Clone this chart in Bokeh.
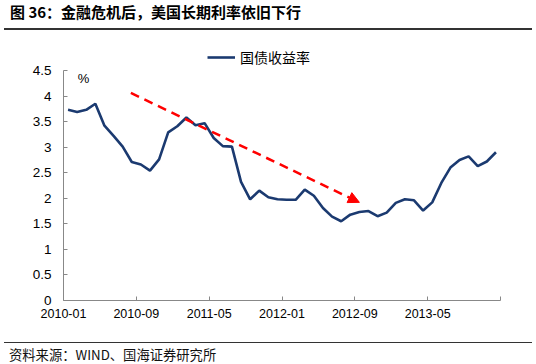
from bokeh.plotting import figure
from bokeh.models import (ColumnDataSource, FixedTicker, Label, Arrow, NormalHead,
                          Legend, LegendItem, Div)
from bokeh.layouts import column
from bokeh.embed import file_html
from bokeh.resources import INLINE
import pandas as pd

# ---- data ----
months = list(pd.date_range("2010-01-01", periods=48, freq="MS").strftime("%Y-%m"))
yields = [3.73, 3.69, 3.73, 3.85, 3.42, 3.22, 3.01, 2.71, 2.66, 2.54, 2.76, 3.29,
          3.41, 3.58, 3.43, 3.47, 3.18, 3.02, 3.01, 2.32, 1.98, 2.15, 2.02, 1.98,
          1.97, 1.97, 2.17, 2.05, 1.81, 1.64, 1.55, 1.68, 1.73, 1.75, 1.65, 1.72,
          1.91, 1.98, 1.96, 1.76, 1.92, 2.30, 2.60, 2.75, 2.82, 2.63, 2.72, 2.90]
series_name = "国债收益率"
title_text = "图 36：金融危机后，美国长期利率依旧下行"
source_text = "资料来源：WIND、国海证券研究所"
unit_text = "%"
tick_step = 8
y_ticks = [0, 0.5, 1, 1.5, 2, 2.5, 3, 3.5, 4, 4.5]
y_max = 4.5
# trend arrow (x in month-index units, y in %)
arrow_start = (7.4, 4.06)
arrow_end = (32.5, 1.92)

# ---- build ----
W, H = 536, 312
b_left, b_right, b_top, b_bottom = 63, 36, 15, 42
axis_h = 230  # pixel height of the 0..4.5 axis
frame_h = H - b_top - b_bottom
y_top = y_max * frame_h / axis_h

xpos = [i + 0.5 for i in range(len(months))]
src = ColumnDataSource(dict(x=xpos, y=yields, m=months))

p = figure(width=W, height=H, min_border_left=b_left, min_border_right=b_right,
           min_border_top=b_top, min_border_bottom=b_bottom,
           x_range=(0, len(months)), y_range=(0, y_top),
           output_backend="svg", toolbar_location=None, tools="", margin=0)
p.outline_line_color = None
p.xgrid.visible = False
p.ygrid.visible = False
p.background_fill_color = "white"
p.border_fill_color = "white"

r = p.line("x", "y", source=src, line_color="#1B3A70", line_width=2.6)

xt = list(range(0, len(months) + 1, tick_step))
p.xaxis.ticker = FixedTicker(ticks=xt)
p.xaxis.major_label_overrides = {t: (months[t] if t < len(months) else "") for t in xt}
p.yaxis.ticker = FixedTicker(ticks=y_ticks)
p.yaxis.major_label_overrides = {v: ("%g" % v) for v in y_ticks}
p.yaxis.bounds = (0, y_max)
for ax in (p.xaxis, p.yaxis):
    ax.axis_line_color = "#888888"
    ax.major_tick_line_color = "#888888"
    ax.major_tick_in = 4
    ax.major_tick_out = 0
    ax.minor_tick_line_color = None
    ax.major_label_text_font = "Liberation Sans"
    ax.major_label_text_color = "#000000"
p.xaxis.major_label_text_font_size = "12.5px"
p.yaxis.major_label_text_font_size = "13.5px"
p.xaxis.major_label_standoff = 8
p.yaxis.major_label_standoff = 12

p.add_layout(Arrow(end=NormalHead(size=11, fill_color="#FF0000", line_color="#FF0000"),
                   x_start=arrow_start[0], y_start=arrow_start[1],
                   x_end=arrow_end[0], y_end=arrow_end[1],
                   line_color="#FF0000", line_width=2.5, line_dash="9 6"))

legend = Legend(items=[LegendItem(label=series_name, renderers=[r])],
                location=(144, 233), orientation="horizontal",
                border_line_color=None, background_fill_alpha=0,
                padding=0, margin=0, glyph_width=28, glyph_height=16, label_standoff=5,
                label_text_font="Noto Sans CJK SC", label_text_font_size="14px",
                label_text_color="#000000")
p.add_layout(legend, "center")

p.add_layout(Label(x=20, y=222, x_units="screen", y_units="screen", text=unit_text,
                   text_font="Liberation Sans", text_font_size="13px",
                   text_align="center", text_baseline="middle", text_color="#000000"))

title_div = Div(
    text=('<div style="margin-left:4px;width:528px;height:30px;box-sizing:border-box;'
          'border-bottom:2px solid #333;padding:2px 0 0 6px;'
          "font-family:'Noto Sans CJK SC';font-weight:bold;font-size:15px;"
          'line-height:20px;color:#000;white-space:nowrap;">' + title_text + '</div>'),
    width=W, height=30, margin=0)
source_div = Div(
    text=('<div style="margin-left:4px;width:528px;height:22px;box-sizing:border-box;'
          'border-top:1px solid #333;padding:3px 0 0 5px;'
          "font-family:'Noto Sans CJK SC';font-size:13.3px;line-height:17px;"
          'color:#111;white-space:nowrap;">' + source_text + '</div>'),
    width=W, height=22, margin=0)

layout = column(title_div, p, source_div, spacing=0, margin=0)
open("out.html", "w").write(file_html(layout, INLINE))
